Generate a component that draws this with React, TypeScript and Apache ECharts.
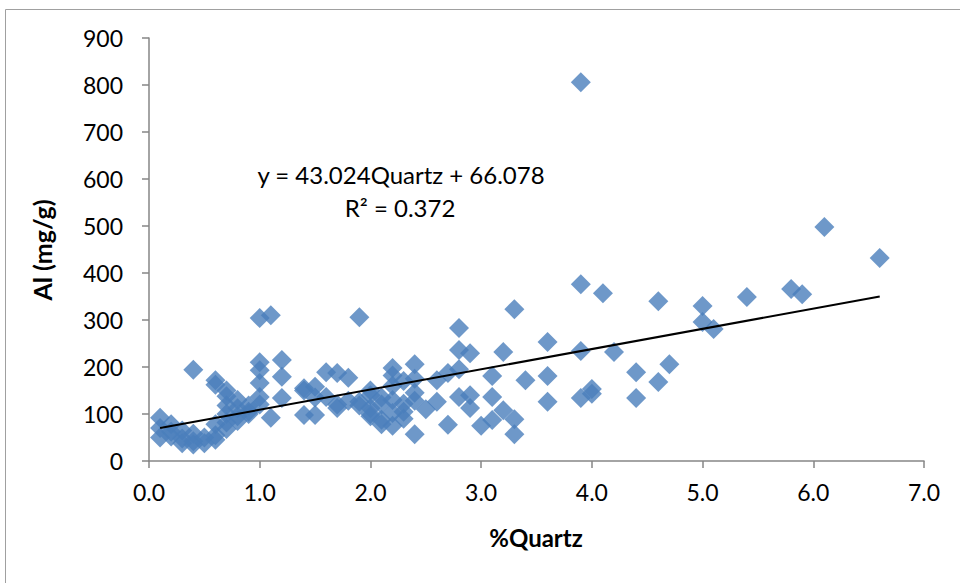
import React, { useEffect, useRef } from "react";
import * as echarts from "echarts";

const quartz: number[] = [
  0.1, 0.1, 0.1, 0.2, 0.2, 0.2, 0.3, 0.3, 0.3, 0.4, 0.4, 0.4, 0.4, 0.5, 0.5,
  0.6, 0.6, 0.6, 0.6, 0.6, 0.7, 0.7, 0.7, 0.7, 0.7, 0.7, 0.8, 0.8, 0.8, 0.8,
  0.9, 0.9, 0.9, 1.0, 1.0, 1.0, 1.0, 1.0, 1.0, 1.1, 1.1, 1.2, 1.2, 1.2,
  1.4, 1.4, 1.4, 1.5, 1.5, 1.5, 1.6, 1.6, 1.7, 1.7, 1.7, 1.8, 1.8, 1.9, 1.9, 1.9,
  2.0, 2.0, 2.0, 2.0, 2.0, 2.1, 2.1, 2.1, 2.1, 2.2, 2.2, 2.2, 2.2, 2.2, 2.2,
  2.3, 2.3, 2.3, 2.3, 2.4, 2.4, 2.4, 2.4, 2.4, 2.5, 2.6, 2.6, 2.7, 2.7,
  2.8, 2.8, 2.8, 2.8, 2.9, 2.9, 2.9, 3.0, 3.1, 3.1, 3.1, 3.2, 3.2, 3.3, 3.3, 3.3,
  3.4, 3.6, 3.6, 3.6, 3.9, 3.9, 3.9, 3.9, 4.0, 4.0, 4.1, 4.2, 4.4, 4.4, 4.6, 4.6,
  4.7, 5.0, 5.0, 5.1, 5.4, 5.8, 5.9, 6.1, 6.6,
];

const al: number[] = [
  92, 70, 50, 78, 62, 52, 65, 48, 38, 194, 58, 42, 35, 50, 38,
  172, 162, 78, 55, 45, 150, 138, 118, 100, 82, 68, 130, 112, 95, 85,
  118, 105, 100, 304, 210, 193, 166, 136, 120, 310, 92, 215, 179, 134,
  155, 150, 98, 158, 135, 98, 189, 136, 187, 120, 113, 177, 128, 306, 126, 118,
  150, 140, 112, 100, 95, 135, 120, 88, 78, 198, 182, 160, 130, 102, 75,
  170, 122, 105, 90, 206, 175, 145, 128, 57, 110, 172, 126, 187, 77,
  283, 236, 195, 136, 229, 140, 113, 75, 181, 136, 87, 232, 108, 323, 89, 57,
  172, 253, 181, 126, 806, 376, 234, 134, 153, 143, 357, 232, 189, 134, 340, 168,
  206, 330, 296, 281, 349, 366, 355, 498, 432,
];

const slope = 43.024;
const intercept = 66.078;
const trendRange: number[] = [0.1, 6.6];
const xTicks: number[] = [0, 1, 2, 3, 4, 5, 6, 7];
const yTicks: number[] = [0, 100, 200, 300, 400, 500, 600, 700, 800, 900];

const FONT = "Lato, 'Open Sans', sans-serif";

export default function App() {
  const ref = useRef<HTMLDivElement>(null);
  useEffect(() => {
    document.body.style.margin = "0";
    if (!ref.current) return;
    const chart = echarts.init(ref.current, undefined, { renderer: "svg" });
    const points = quartz.map((q, i) => [q, al[i]]);
    const trend = trendRange.map((x) => [x, slope * x + intercept]);
    chart.setOption({
      animation: false,
      backgroundColor: "#ffffff",
      grid: { left: 149, top: 38, width: 775, height: 423 },
      xAxis: {
        type: "value",
        min: xTicks[0],
        max: xTicks[xTicks.length - 1],
        interval: 1,
        axisLine: { show: true, lineStyle: { color: "#868686", width: 1.5 } },
        axisTick: { show: true, inside: false, length: 7, lineStyle: { color: "#868686", width: 1.5 } },
        splitLine: { show: false },
        axisLabel: {
          color: "#000",
          fontFamily: FONT,
          fontSize: 23,
          margin: 19,
          formatter: (v: number) => v.toFixed(1),
        },
      },
      yAxis: {
        type: "value",
        min: yTicks[0],
        max: yTicks[yTicks.length - 1],
        interval: 100,
        axisLine: { show: true, lineStyle: { color: "#868686", width: 1.5 } },
        axisTick: { show: true, inside: false, length: 7, lineStyle: { color: "#868686", width: 1.5 } },
        splitLine: { show: false },
        axisLabel: { color: "#000", fontFamily: FONT, fontSize: 23, margin: 26 },
      },
      graphic: [
        {
          type: "rect",
          silent: true,
          shape: { x: 5.5, y: 9.5, width: 1000, height: 700 },
          style: { fill: "none", stroke: "#a0a0a0", lineWidth: 1 },
        },
        {
          type: "text",
          x: 42,
          y: 250,
          rotation: Math.PI / 2,
          style: {
            text: "Al (mg/g)",
            fontFamily: FONT,
            fontWeight: "bold",
            fontSize: 25,
            fill: "#000",
            textAlign: "center",
            textVerticalAlign: "middle",
          },
        },
        {
          type: "text",
          x: 536,
          y: 537,
          style: {
            text: "%Quartz",
            fontFamily: FONT,
            fontWeight: "bold",
            fontSize: 24,
            fill: "#000",
            textAlign: "center",
            textVerticalAlign: "middle",
          },
        },
        {
          type: "text",
          x: 401,
          y: 174,
          style: {
            text: "y = 43.024Quartz + 66.078",
            fontFamily: FONT,
            fontSize: 24,
            fill: "#000",
            textAlign: "center",
            textVerticalAlign: "middle",
          },
        },
        {
          type: "text",
          x: 400,
          y: 207,
          style: {
            text: "R² = 0.372",
            fontFamily: FONT,
            fontSize: 24,
            fill: "#000",
            textAlign: "center",
            textVerticalAlign: "middle",
          },
        },
      ],
      series: [
        {
          type: "scatter",
          data: points,
          symbol: "diamond",
          symbolSize: 20,
          itemStyle: { color: "#4a7ebb" },
          z: 2,
        },
        {
          type: "line",
          data: trend,
          showSymbol: false,
          symbol: "none",
          lineStyle: { color: "#000", width: 2 },
          z: 3,
        },
      ],
    });
    return () => chart.dispose();
  }, []);
  return <div ref={ref} style={{ width: 960, height: 583 }} />;
}
